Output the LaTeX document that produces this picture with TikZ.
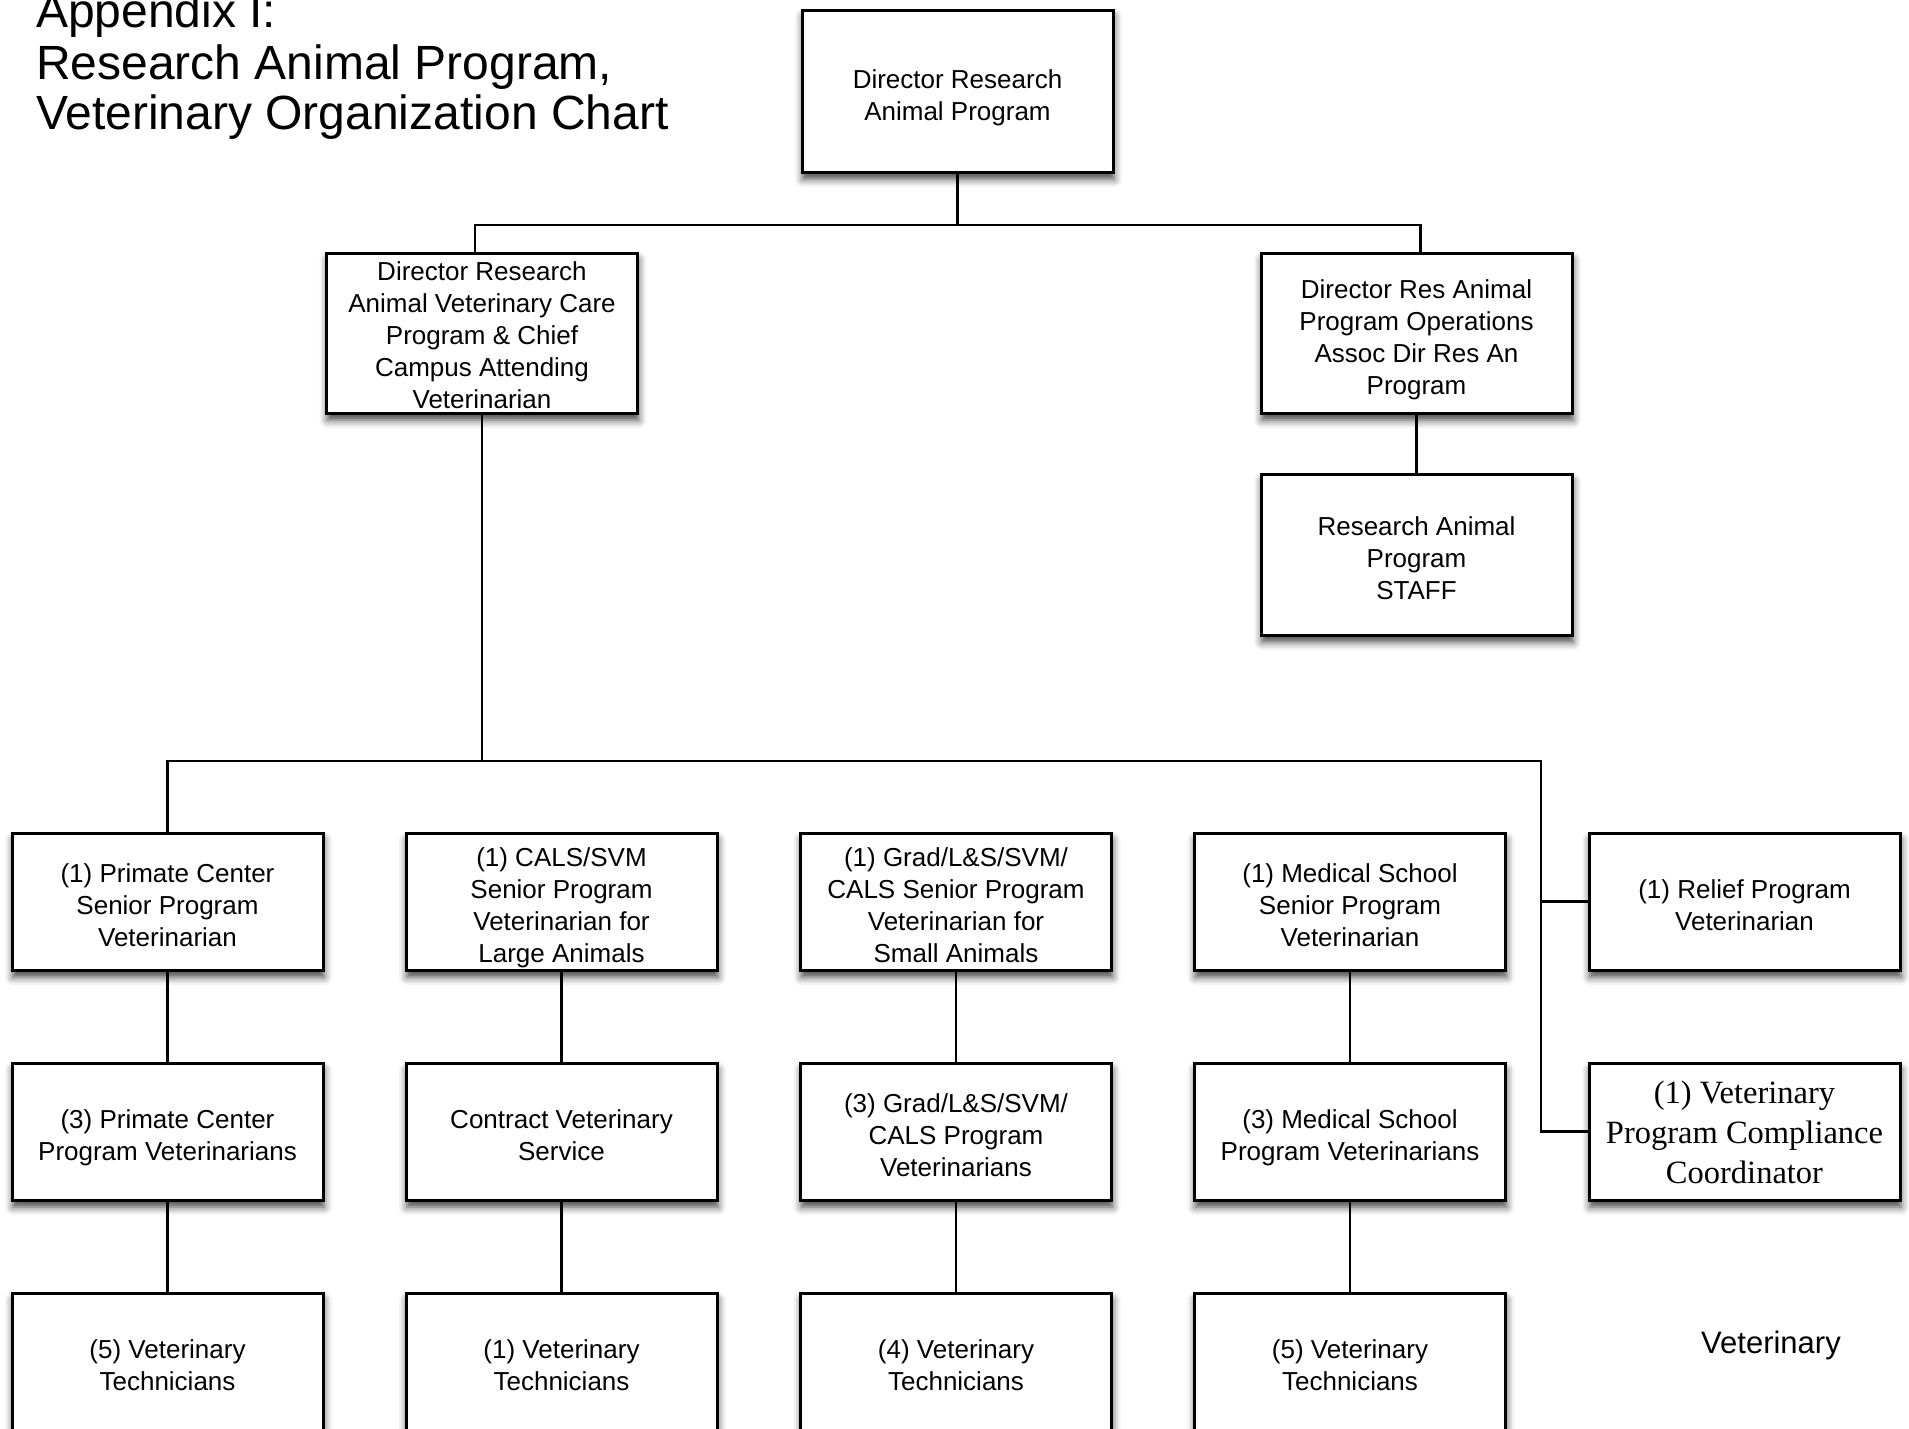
\documentclass[tikz,border=0pt]{standalone}
\usepackage{fontspec}
\setmainfont{Liberation Sans}
\newfontfamily\timesface{Liberation Serif}
\usetikzlibrary{shadows.blur}
% a framed chart box: [frame options]{name}{centre}{text shift}{text options}{text}
\newcommand{\orgbox}[6][]{%
  \node[box,#1] (#2) at (#3) {};
  \node[boxtext,#5] (#2-text) at ([yshift=#4]#2.center) {#6};
}
\begin{document}
\begin{tikzpicture}[x=1pt,y=-1pt,
  box/.style={draw=black, line width=3pt, fill=white,
    minimum width=311pt, minimum height=137pt, inner sep=0pt,
    blur shadow={shadow xshift=1pt, shadow yshift=-7pt,
      shadow blur radius=8pt, shadow opacity=75}},
  boxtext/.style={align=center, inner sep=0pt, text depth=0pt,
    font=\fontsize{26}{32}\selectfont},
  link/.style={draw=black, line width=2.5pt},
  title/.style={anchor=base west, inner sep=0pt, font=\fontsize{48}{50}\selectfont}
]
\useasboundingbox (0,0) rectangle (1909,1428);

% heading
\node[title] (t1) at (36,27) {Appendix I:};
\node[title] (t2) at (36,79) {Research Animal Program,};
\node[title] (t3) at (36,129) {Veterinary Organization Chart};

% upper levels
\orgbox[minimum height=162pt]{top}{957.5,91}{-4pt}{}{Director Research\\Animal Program}
\orgbox[minimum height=160pt]{vet}{482,333}{-2.5pt}{}{Director Research\\Animal Veterinary Care\\Program \& Chief\\Campus Attending\\Veterinarian}
\orgbox[minimum height=160pt]{ops}{1416.5,333}{-4pt}{}{Director Res Animal\\Program Operations\\Assoc Dir Res An\\Program}
\orgbox[minimum height=161pt]{staff}{1416.5,554.5}{-4pt}{}{Research Animal\\Program\\STAFF}

% first row
\orgbox{a1}{167.5,901.5}{-4pt}{}{(1) Primate Center\\Senior Program\\Veterinarian}
\orgbox{b1}{561.5,901.5}{-4pt}{}{(1) CALS/SVM\\Senior Program\\Veterinarian for\\Large Animals}
\orgbox{c1}{956,901.5}{-4pt}{}{(1) Grad/L\&S/SVM/\\CALS Senior Program\\Veterinarian for\\Small Animals}
\orgbox{d1}{1350,901.5}{-4pt}{}{(1) Medical School\\Senior Program\\Veterinarian}
\orgbox{relief}{1744.5,901.5}{-4pt}{}{(1) Relief Program\\Veterinarian}

% second row
\orgbox{a2}{167.5,1131.5}{-4pt}{}{(3) Primate Center\\Program Veterinarians}
\orgbox{b2}{561.5,1131.5}{-4pt}{}{Contract Veterinary\\Service}
\orgbox{c2}{956,1131.5}{-4pt}{}{(3) Grad/L\&S/SVM/\\CALS Program\\Veterinarians}
\orgbox{d2}{1350,1131.5}{-4pt}{}{(3) Medical School\\Program Veterinarians}
\orgbox{comp}{1744.5,1131.5}{-1pt}{font=\timesface\fontsize{32.5}{40}\selectfont}{(1) Veterinary\\Program Compliance\\Coordinator}

% third row
\orgbox{a3}{167.5,1361.5}{-4pt}{}{(5) Veterinary\\Technicians}
\orgbox{b3}{561.5,1361.5}{-4pt}{}{(1) Veterinary\\Technicians}
\orgbox{c3}{956,1361.5}{-4pt}{}{(4) Veterinary\\Technicians}
\orgbox{d3}{1350,1361.5}{-4pt}{}{(5) Veterinary\\Technicians}

\node[anchor=base, inner sep=0pt, font=\fontsize{31}{36}\selectfont] (lbl) at (1771,1353) {Veterinary};

% connectors
\coordinate (topbus) at (0,225);
\coordinate (lowbus) at (0,761);
\coordinate (trunk) at (1541,761);
\coordinate (vetin) at ([xshift=-7pt]vet.north);
\coordinate (opsin) at ([xshift=4pt]ops.north);

\draw[link] (top.south) -- (top.south |- topbus);
\draw[link] (vetin) -- (vetin |- topbus) -| (opsin);
\draw[link] (ops.south) -- (staff.north);

\draw[link] (vet.south) -- (vet.south |- lowbus);
\draw[link] (a1.north) |- (trunk) |- (comp.west);
\draw[link] (trunk |- relief.west) -- (relief.west);

\foreach \c in {a,b,c,d} {
  \draw[link] (\c1.south) -- (\c2.north);
  \draw[link] (\c2.south) -- (\c3.north);
}
\end{tikzpicture}
\end{document}
